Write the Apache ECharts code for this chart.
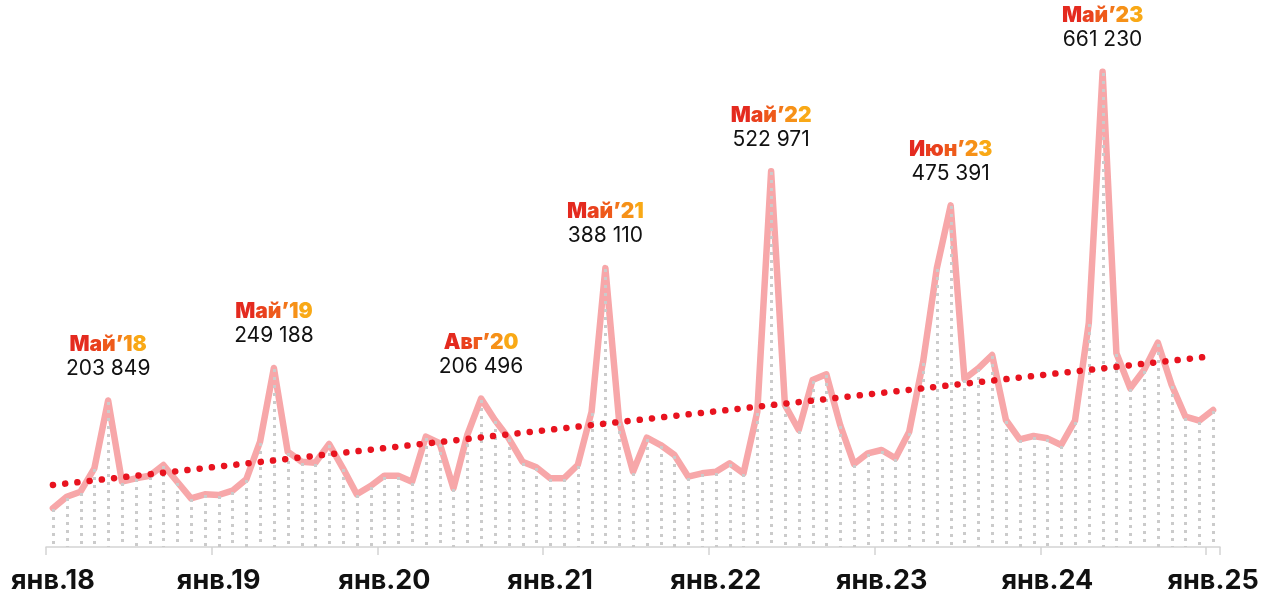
<!DOCTYPE html>
<html>
<head>
<meta charset="utf-8">
<script src="https://cdn.jsdelivr.net/npm/echarts@6/dist/echarts.min.js"></script>
<style>
html,body{margin:0;padding:0;background:#fff;}
#chart{width:1273px;height:594px;}
</style>
</head>
<body>
<div id="chart"></div>
<script>
// месяцы янв.18 - янв.25
var years = ['18','19','20','21','22','23','24','25'];
var monthNames = ['янв','фев','мар','апр','май','июн','июл','авг','сен','окт','ноя','дек'];
var values = [
	53900, 70000, 76960, 109520, 203849, 90870, 95600, 99220, 114110, 90870, 67770, 73340,
	72360, 78350, 94210, 146540, 249188, 132620, 118700, 117310, 143340, 109520, 73340, 84890,
	99220, 99220, 90870, 153500, 144310, 81690, 155860, 206496, 176730, 151270, 118700, 110910,
	95600, 95600, 114110, 188280, 388110, 174370, 104790, 152100, 141940, 128030, 97830, 102560,
	104790, 116480, 102560, 188280, 522971, 197610, 162820, 232400, 240330, 169780, 115500, 130390,
	134990, 123430, 160450, 257450, 388260, 475391, 233790, 248680, 267190, 176730, 149880, 154470,
	151270, 141940, 175760, 311720, 661230, 269550, 220850, 246320, 284310, 225440, 181330, 175760,
	190650
];
// линия тренда: начало и конец
var trendIdx = [0, 84];
var trendVal = [86300, 265700];
// подписи пиков
var peakIdx = [4, 16, 31, 40, 52, 65, 76];
var peakNames = ['Май’18', 'Май’19', 'Авг’20', 'Май’21', 'Май’22', 'Июн’23', 'Май’23'];

var gradColors = ['#e42a1f', '#e9401d', '#ee5a1b', '#f2751a', '#f69118', '#f9a916', '#fcbc14'];

var categories = [];
for (var y = 0; y < years.length; y++) {
	for (var m = 0; m < 12; m++) {
		if (y == years.length - 1 && m > 0) break;
		categories.push(monthNames[m] + '.' + years[y]);
	}
}

var lineData = [];
for (var i = 0; i < values.length; i++) {
	lineData.push([i, values[i]]);
}
var trendData = [];
for (var i = 0; i < trendIdx.length; i++) {
	trendData.push([trendIdx[i], trendVal[i]]);
}
var peakData = [];
for (var i = 0; i < peakIdx.length; i++) {
	peakData.push({value: [peakIdx[i], values[peakIdx[i]]], name: peakNames[i]});
}

function fmt(v) {
	return String(v).replace(/\B(?=(\d{3})+(?!\d))/g, ' ');
}

var rich = {n: {fontFamily: 'Inter', fontSize: 21, color: '#111', lineHeight: 24}};
for (var k = 0; k < gradColors.length; k++) {
	rich['c' + k] = {fontFamily: 'Inter', fontSize: 21, fontWeight: 900, color: gradColors[k], lineHeight: 24};
}

var mycharts = echarts.init(document.getElementById('chart'));
var option = {
	animation: false,
	grid: {left: 46, right: 53, top: 44, bottom: 47, containLabel: false, outerBoundsMode: 'none'},
	xAxis: {
		type: 'category',
		data: categories,
		boundaryGap: true,
		axisLine: {lineStyle: {color: '#d4d4d4', width: 1.5}},
		axisTick: {show: true, interval: 11, length: 8, lineStyle: {color: '#d4d4d4', width: 1.5}},
		axisLabel: {
			interval: 11,
			margin: 20,
			fontFamily: 'Inter',
			fontWeight: 'bold',
			fontSize: 27,
			color: '#111'
		},
		splitLine: {show: false}
	},
	yAxis: {
		type: 'value',
		min: 0,
		max: 700000,
		show: false,
		splitLine: {show: false}
	},
	series: [{
		type: 'line',
		data: lineData,
		symbol: 'none',
		z: 2,
		lineStyle: {color: '#f7a7a9', width: 6.5, cap: 'round', join: 'round'}
	}, {
		type: 'custom',
		data: lineData,
		z: 3,
		renderItem: function (params, api) {
			var top = api.coord([api.value(0), api.value(1)]);
			var bottom = api.coord([api.value(0), 0]);
			return {
				type: 'line',
				shape: {x1: Math.round(top[0]) + 0.5, y1: Math.round(top[1]) + 1, x2: Math.round(top[0]) + 0.5, y2: bottom[1]},
				style: {stroke: '#cbcbcb', lineWidth: 3, lineDash: [3, 5]}
			};
		}
	}, {
		type: 'line',
		data: trendData,
		symbol: 'none',
		z: 4,
		lineStyle: {color: '#e8131f', width: 6.5, type: [0.1, 12.2], cap: 'round'}
	}, {
		type: 'scatter',
		data: peakData,
		symbolSize: 0,
		z: 5,
		itemStyle: {opacity: 1},
		label: {
			show: true,
			position: 'top',
			distance: 20,
			align: 'center',
			opacity: 1,
			formatter: function (p) {
				var s = '';
				var chars = p.name.split('');
				for (var k = 0; k < chars.length; k++) {
					s += '{c' + k + '|' + chars[k] + '}';
				}
				return s + '\n{n|' + fmt(p.value[1]) + '}';
			},
			rich: rich
		}
	}]
};
mycharts.setOption(option);
</script>
</body>
</html>
